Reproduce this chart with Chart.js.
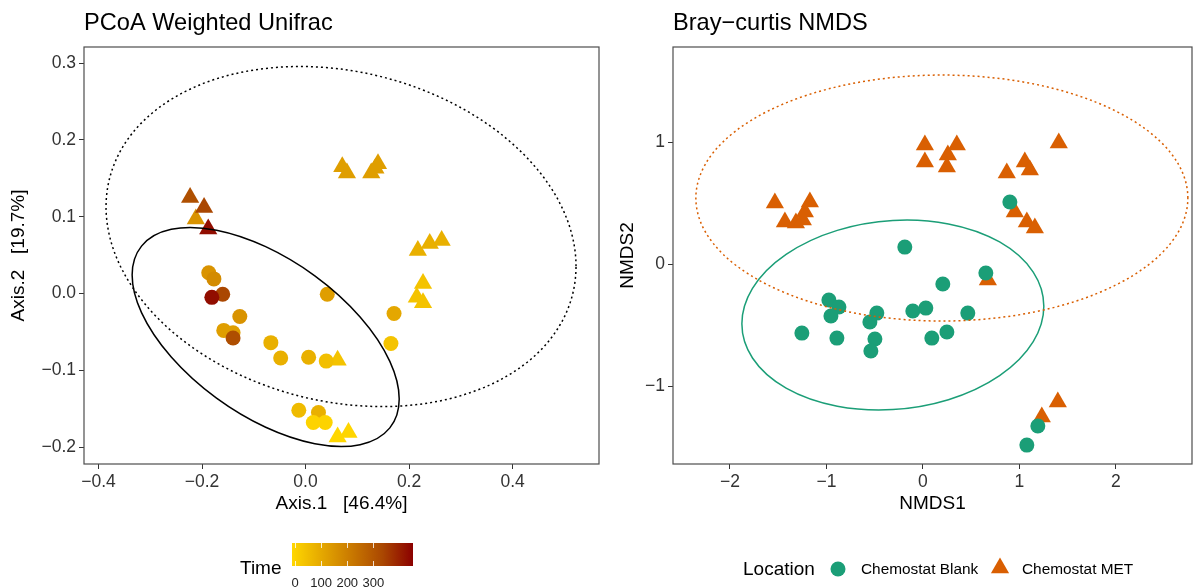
<!DOCTYPE html>
<html>
<head>
<meta charset="utf-8">
<title>PCoA Weighted Unifrac / Bray-curtis NMDS</title>
<script src="https://cdn.jsdelivr.net/npm/chart.js@4.4.1/dist/chart.umd.min.js"></script>
<style>
  body { margin: 0; background: #fff; font-family: "Liberation Sans", Arial, sans-serif; }
  #wrap { position: relative; width: 1195px; height: 588px; overflow: hidden; }
  #pcoa { position: absolute; left: 0; top: 0; }
  #nmds { position: absolute; left: 600px; top: 0; }
  .lbl { position: absolute; white-space: nowrap; color: #000; }
</style>
</head>
<body>
<div id="wrap">
  <canvas id="pcoa" width="600" height="588"></canvas>
  <canvas id="nmds" width="595" height="588"></canvas>

  <!-- Time colourbar -->
  <div class="lbl" style="left:240px;top:557px;font-size:19px;line-height:22px;">Time</div>
  <div id="bar" style="position:absolute;left:292px;top:543px;width:121px;height:23px;"></div>
  <div id="barTicks"></div>

  <!-- Location legend -->
  <div class="lbl" style="left:743px;top:558px;font-size:19px;line-height:22px;">Location</div>
  <svg style="position:absolute;left:829px;top:560px" width="18" height="18"><circle cx="9" cy="9" r="7.5" fill="#1B9E77"/></svg>
  <div class="lbl" style="left:861px;top:560px;font-size:15.4px;line-height:18px;">Chemostat Blank</div>
  <svg style="position:absolute;left:990px;top:557px" width="20" height="18"><polygon points="10,0.5 19.1,16.25 0.9,16.25" fill="#D95F02"/></svg>
  <div class="lbl" style="left:1022px;top:560px;font-size:15.4px;line-height:18px;">Chemostat MET</div>
</div>

<script>
// ---- PCoA Weighted Unifrac (left) ----
const pcoaBlankX = [-0.187, -0.177, -0.160, -0.181, -0.127, -0.158, -0.140, -0.140, -0.067, -0.048, 0.006, 0.040, 0.042, 0.171, 0.165, -0.013, 0.025, 0.015, 0.038];
const pcoaBlankY = [0.027, 0.019, -0.001, -0.005, -0.030, -0.048, -0.051, -0.058, -0.064, -0.084, -0.083, -0.088, -0.001, -0.026, -0.065, -0.152, -0.155, -0.168, -0.168];
const pcoaBlankTime = [155, 175, 330, 420, 155, 130, 130, 315, 90, 90, 90, 55, 130, 110, 45, 65, 90, 10, 10];

const pcoaMetX = [-0.212, -0.223, -0.196, -0.188, 0.062, 0.062, 0.083, 0.071, 0.080, 0.127, 0.135, 0.140, 0.217, 0.240, 0.263, 0.227, 0.215, 0.227];
const pcoaMetY = [0.097, 0.125, 0.112, 0.084, -0.087, -0.187, -0.181, 0.165, 0.157, 0.157, 0.163, 0.169, 0.056, 0.065, 0.069, 0.013, -0.005, -0.012];
const pcoaMetTime = [155, 310, 330, 420, 45, 0, 5, 130, 130, 130, 130, 130, 90, 90, 90, 45, 45, 45];

const pcoaXTicks = [-0.4, -0.2, 0.0, 0.2, 0.4];
const pcoaYTicks = [-0.2, -0.1, 0.0, 0.1, 0.2, 0.3];

// ellipse: centre x, centre y, then two conjugate semi-axes (dx, dy) in data units
const pcoaBlankEllipse = [-0.077, -0.0566, 0.258, -0.0807, 0, 0.1176];
const pcoaMetEllipse = [0.0686, 0.0742, 0.454, -0.0387, 0, 0.218];

const timeLimits = [0, 440];
const timeBreaks = [0, 100, 200, 300];
const timeColourStops = ['#FFD700', '#E4A700', '#C87700', '#AA4701', '#8B0000'];

// ---- Bray-curtis NMDS (right) ----
const nmdsBlankX = [-0.187, -0.974, -0.870, -0.953, -1.254, -0.891, -0.477, -0.549, -0.497, -0.539, -0.104, 0.031, 0.093, 0.207, 0.466, 0.249, 0.653, 0.902, 1.192, 1.078];
const nmdsBlankY = [0.139, -0.295, -0.352, -0.426, -0.566, -0.607, -0.402, -0.475, -0.615, -0.713, -0.385, -0.361, -0.607, -0.164, -0.402, -0.557, -0.074, 0.508, -1.328, -1.484];

const nmdsMetX = [-1.534, -1.430, -1.316, -1.244, -1.223, -1.171, 0.021, 0.021, 0.259, 0.352, 0.249, 0.870, 1.057, 1.109, 1.409, 0.953, 1.078, 1.161, 0.674, 1.399, 1.233];
const nmdsMetY = [0.500, 0.344, 0.336, 0.361, 0.426, 0.508, 0.975, 0.836, 0.893, 0.975, 0.795, 0.746, 0.836, 0.770, 0.992, 0.426, 0.344, 0.295, -0.131, -1.131, -1.254];

const nmdsXTicks = [-2, -1, 0, 1, 2];
const nmdsYTicks = [-1, 0, 1];

const nmdsBlankEllipse = [-0.311, -0.418, 1.565, 0.072, 0, 0.775];
const nmdsMetEllipse = [0.197, 0.541, 2.55, 0, 0, 1.008];

const blankColour = '#1B9E77';
const metColour = '#D95F02';

Chart.defaults.font.family = '"Liberation Sans", Arial, sans-serif';

function hexRgb(h) {
    return [parseInt(h.slice(1, 3), 16), parseInt(h.slice(3, 5), 16), parseInt(h.slice(5, 7), 16)];
}

function timeColour(t) {
    let f = (t - timeLimits[0]) / (timeLimits[1] - timeLimits[0]);
    f = Math.min(1, Math.max(0, f)) * (timeColourStops.length - 1);
    let i = Math.min(Math.floor(f), timeColourStops.length - 2);
    let w = f - i;
    let a = hexRgb(timeColourStops[i]), b = hexRgb(timeColourStops[i + 1]);
    let c = a.map((v, k) => Math.round(v + (b[k] - v) * w));
    return 'rgb(' + c.join(',') + ')';
}

function pts(xs, ys) {
    return xs.map((x, i) => ({ x: x, y: ys[i] }));
}

function minus(s) {
    return s.replace('-', '\u2212');
}

function drawEllipse(chart, e, colour, dash) {
    let { ctx, chartArea: area, scales: { x, y } } = chart;
    let cx = x.getPixelForValue(e[0]), cy = y.getPixelForValue(e[1]);
    let ax = x.getPixelForValue(e[0] + e[2]) - cx, ay = y.getPixelForValue(e[1] + e[3]) - cy;
    let bx = x.getPixelForValue(e[0] + e[4]) - cx, by = y.getPixelForValue(e[1] + e[5]) - cy;
    ctx.save();
    ctx.beginPath();
    ctx.rect(area.left, area.top, area.right - area.left, area.bottom - area.top);
    ctx.clip();
    ctx.beginPath();
    ctx.save();
    ctx.transform(ax, ay, bx, by, cx, cy);
    ctx.arc(0, 0, 1, 0, Math.PI * 2);
    ctx.restore();
    ctx.strokeStyle = colour;
    ctx.lineWidth = 1.5;
    ctx.setLineDash(dash);
    ctx.stroke();
    ctx.restore();
}

// ellipses on top of the points, then the panel border
const panelBox = {
    id: 'panelBox',
    afterDatasetsDraw(chart, args, opts) {
        (opts.ellipses || []).forEach(e => drawEllipse(chart, e.shape, e.colour, e.dash));
        let { ctx, chartArea: a } = chart;
        ctx.save();
        ctx.strokeStyle = '#4D4D4D';
        ctx.lineWidth = 1.2;
        ctx.strokeRect(a.left, a.top, a.right - a.left, a.bottom - a.top);
        ctx.restore();
    }
};

function axis(opts) {
    return {
        type: 'linear',
        min: opts.min,
        max: opts.max,
        afterBuildTicks: s => { s.ticks = opts.ticks.map(v => ({ value: v })); },
        afterFit: s => { if (opts.width) s.width = opts.width; if (opts.height) s.height = opts.height; },
        ticks: {
            callback: opts.fmt,
            font: { size: 17.5 },
            color: '#333',
            padding: 3,
            maxRotation: 0,
            autoSkip: false
        },
        grid: { display: true, drawOnChartArea: false, drawTicks: true, tickLength: 5, color: '#333', lineWidth: 1 },
        border: { display: false },
        title: { display: true, text: opts.title, font: { size: 19 }, color: '#000', padding: opts.titlePad }
    };
}

function makeChart(id, title, datasets, xAxis, yAxis, padRight, ellipses) {
    return new Chart(document.getElementById(id), {
        type: 'scatter',
        data: { datasets: datasets },
        options: {
            responsive: false,
            animation: false,
            events: [],
            layout: { autoPadding: false, padding: { left: 0, top: 0, right: padRight, bottom: 72 } },
            plugins: {
                legend: { display: false },
                tooltip: { enabled: false },
                title: {
                    display: true,
                    text: title,
                    align: 'start',
                    fullSize: false,
                    color: '#000',
                    font: { size: 23.6, weight: 'normal', lineHeight: 1 },
                    padding: { top: 12, bottom: 11.4 }
                },
                panelBox: { ellipses: ellipses }
            },
            scales: { x: xAxis, y: yAxis }
        },
        plugins: [panelBox]
    });
}

// left panel
makeChart('pcoa', 'PCoA Weighted Unifrac', [
    {
        data: pts(pcoaBlankX, pcoaBlankY),
        pointStyle: 'circle',
        pointRadius: 7.5,
        borderWidth: 0,
        backgroundColor: pcoaBlankTime.map(timeColour)
    },
    {
        data: pts(pcoaMetX, pcoaMetY),
        pointStyle: 'triangle',
        pointRadius: 10.5,
        borderWidth: 0,
        backgroundColor: pcoaMetTime.map(timeColour)
    }
],
    axis({ min: -0.428, max: 0.567, ticks: pcoaXTicks, fmt: v => minus(v.toFixed(1)), title: 'Axis.1   [46.4%]', height: 52, titlePad: { top: 0, bottom: 1 } }),
    axis({ min: -0.222, max: 0.321, ticks: pcoaYTicks, fmt: v => minus(v.toFixed(1)), title: 'Axis.2   [19.7%]', width: 84, titlePad: { top: 7, bottom: 0 } }),
    1,
    [
        { shape: pcoaBlankEllipse, colour: '#000', dash: [] },
        { shape: pcoaMetEllipse, colour: '#000', dash: [2, 3] }
    ]);

// right panel
makeChart('nmds', 'Bray\u2212curtis NMDS', [
    {
        data: pts(nmdsBlankX, nmdsBlankY),
        pointStyle: 'circle',
        pointRadius: 7.5,
        borderWidth: 0,
        backgroundColor: blankColour
    },
    {
        data: pts(nmdsMetX, nmdsMetY),
        pointStyle: 'triangle',
        pointRadius: 10.5,
        borderWidth: 0,
        backgroundColor: metColour
    }
],
    axis({ min: -2.59, max: 2.79, ticks: nmdsXTicks, fmt: v => minus(String(v)), title: 'NMDS1', height: 52, titlePad: { top: 0, bottom: 1 } }),
    axis({ min: -1.639, max: 1.779, ticks: nmdsYTicks, fmt: v => minus(String(v)), title: 'NMDS2', width: 73, titlePad: { top: 16, bottom: 0 } }),
    3,
    [
        { shape: nmdsBlankEllipse, colour: blankColour, dash: [] },
        { shape: nmdsMetEllipse, colour: metColour, dash: [2, 3] }
    ]);

// Time colourbar
let bar = document.getElementById('bar');
bar.style.background = 'linear-gradient(to right, ' + timeColourStops.join(', ') + ')';
let barTicks = document.getElementById('barTicks');
timeBreaks.forEach(b => {
    let frac = (0.5 + 19 * (b - timeLimits[0]) / (timeLimits[1] - timeLimits[0])) / 20;
    let px = 292 + frac * 121;
    let lab = document.createElement('div');
    lab.className = 'lbl';
    lab.style.cssText = 'left:' + (px - 30) + 'px;width:60px;text-align:center;top:575px;font-size:13px;line-height:15px;color:#222;';
    lab.textContent = b;
    barTicks.appendChild(lab);
    ['543px', '561px'].forEach(t => {
        let m = document.createElement('div');
        m.style.cssText = 'position:absolute;left:' + (px - 0.5) + 'px;top:' + t + ';width:1px;height:5px;background:rgba(255,255,255,0.8);';
        barTicks.appendChild(m);
    });
});
</script>
</body>
</html>
